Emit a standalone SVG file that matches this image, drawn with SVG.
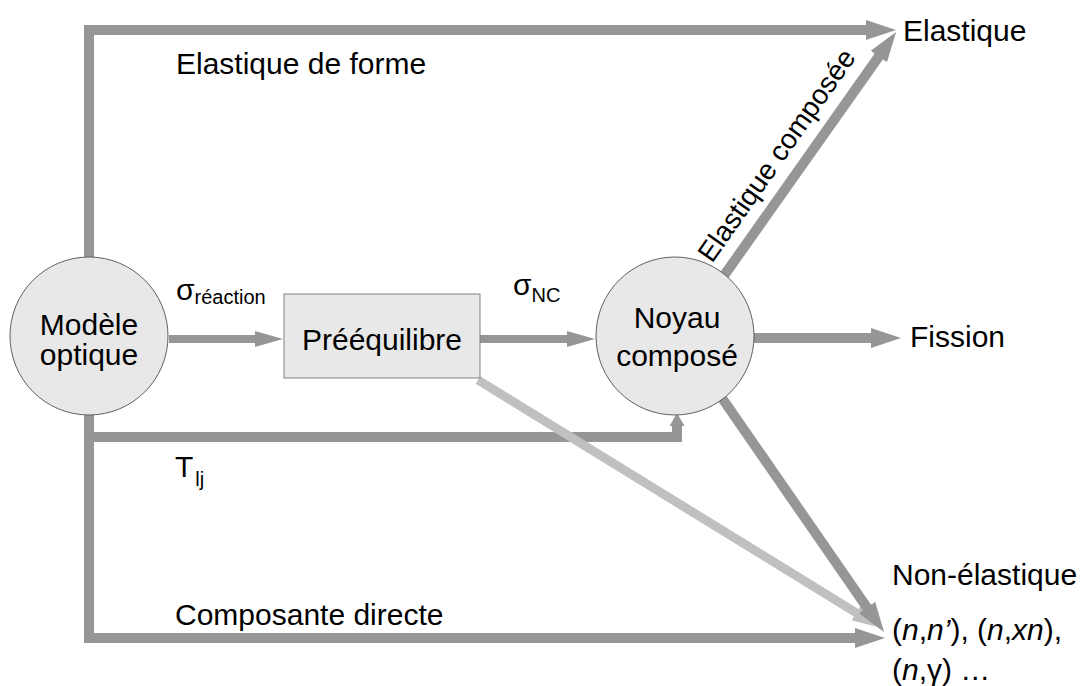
<svg xmlns="http://www.w3.org/2000/svg" width="1087" height="686" viewBox="0 0 1087 686">
<style>
text{font-family:"Liberation Sans",Arial,sans-serif;fill:#000}
.t{font-size:30px}
.s{font-size:20px}
.c{stroke:#969696;stroke-width:10;fill:none;stroke-linejoin:miter;stroke-linecap:butt}
.c8{stroke:#969696;stroke-width:8;fill:none}
.lt{stroke:#c0c0c0;stroke-width:9;fill:none}
.node{fill:#e8e8e8;stroke:#606060;stroke-width:1}
</style>
<defs>
<marker id="a1" markerUnits="userSpaceOnUse" markerWidth="30" markerHeight="20" refX="8" refY="10" orient="auto"><path d="M0,0 L30,10 L0,20 z" fill="#969696"/></marker>
<marker id="a2" markerUnits="userSpaceOnUse" markerWidth="28" markerHeight="16" refX="8" refY="8" orient="auto"><path d="M0,0 L28,8 L0,16 z" fill="#969696"/></marker>
<marker id="a2l" markerUnits="userSpaceOnUse" markerWidth="28" markerHeight="18" refX="8" refY="9" orient="auto"><path d="M0,0 L28,9 L0,18 z" fill="#c0c0c0"/></marker>
<marker id="a3" markerUnits="userSpaceOnUse" markerWidth="13" markerHeight="15" refX="2" refY="7.5" orient="auto"><path d="M0,0 L13,7.5 L0,15 z" fill="#969696"/></marker>
</defs>
<g id="connectors">
<path class="c" d="M89,257 V30 H874" marker-end="url(#a1)"/>
<path class="c" d="M723,277 L883.4,50" marker-end="url(#a1)"/>
<path class="c" d="M754,338 H879" marker-end="url(#a1)"/>
<path class="c8" d="M169,339 H263" marker-end="url(#a2)"/>
<path class="c8" d="M480,339 H575" marker-end="url(#a2)"/>
<path class="c" d="M89,437 H677 V424" marker-end="url(#a3)"/>
<path class="c" d="M89,415 V638 H863" marker-end="url(#a1)"/>
<path class="lt" d="M478,380 L863,617" marker-end="url(#a2l)"/>
<path class="c" d="M722,398 L871.5,614" marker-end="url(#a1)"/>
</g>
<g id="modele">
<circle class="node" cx="89" cy="336" r="79"/>
<text class="t" x="89" y="335" text-anchor="middle">Modèle</text>
<text class="t" x="89" y="365" text-anchor="middle">optique</text>
</g>
<g id="preequilibre">
<rect class="node" x="284" y="294" width="196" height="84" style="stroke:#808080"/>
<text class="t" x="382" y="350" text-anchor="middle">Prééquilibre</text>
</g>
<g id="noyau">
<circle class="node" cx="675" cy="336" r="79"/>
<text class="t" x="677" y="328" text-anchor="middle">Noyau</text>
<text class="t" x="677" y="366" text-anchor="middle">composé</text>
</g>
<g id="labels">
<text class="t" x="176" y="74">Elastique de forme</text>
<text class="t" x="903" y="41">Elastique</text>
<text class="t" transform="translate(712,264) rotate(-55)" style="font-size:28px">Elastique composée</text>
<text class="t" x="910" y="347">Fission</text>
<text x="176" y="300"><tspan class="t">σ</tspan><tspan class="s" dy="4">réaction</tspan></text>
<text x="513" y="295"><tspan class="t">σ</tspan><tspan class="s" dy="7">NC</tspan></text>
<text x="175" y="477"><tspan class="t">T</tspan><tspan class="s" dx="2" dy="9">lj</tspan></text>
<text class="t" x="175" y="625">Composante directe</text>
<text class="t" x="892" y="585">Non-élastique</text>
<text class="t" x="892" y="640">(<tspan font-style="italic">n</tspan>,<tspan font-style="italic">n’</tspan>), (<tspan font-style="italic">n</tspan>,<tspan font-style="italic">xn</tspan>),</text>
<text class="t" x="892" y="680">(<tspan font-style="italic">n</tspan>,γ) …</text>
</g>
</svg>
